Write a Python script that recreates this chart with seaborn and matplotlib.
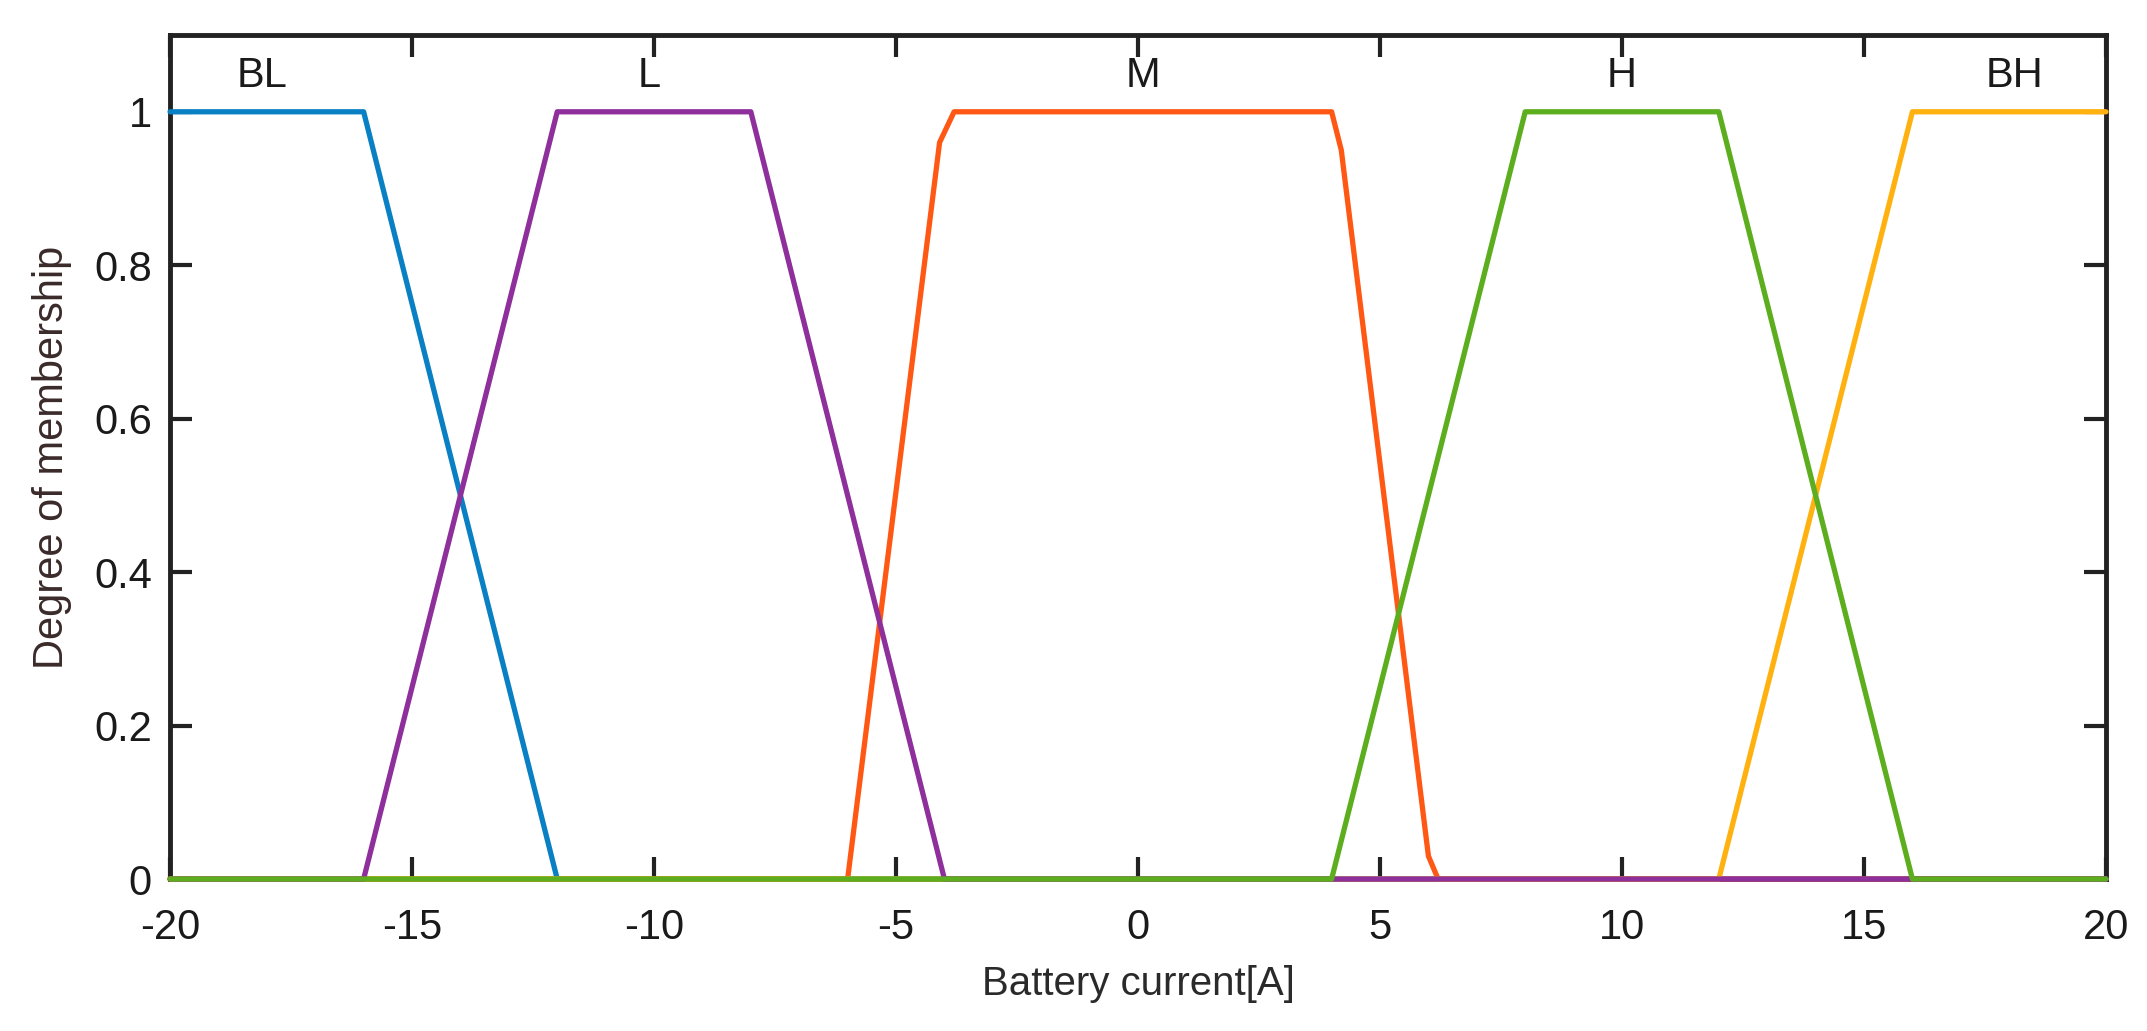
import numpy as np
import pandas as pd
import matplotlib
matplotlib.use("Agg")
import matplotlib.pyplot as plt
import seaborn as sns

# ---- data (membership functions) ----
names = ["BL", "L", "M", "H", "BH"]
bl_x = [-20, -16, -12, 20]
bl_y = [1, 1, 0, 0]
l_x = [-20, -16, -12, -8, -4, 20]
l_y = [0, 0, 1, 1, 0, 0]
m_x = [-20, -6, -4.1, -3.8, 4.0, 4.2, 6.0, 6.2, 20]
m_y = [0, 0, 0.96, 1, 1, 0.95, 0.03, 0, 0]
h_x = [-20, 4, 8, 12, 16, 20]
h_y = [0, 0, 1, 1, 0, 0]
bh_x = [-20, 12, 16, 20]
bh_y = [0, 0, 1, 1]
label_x = [-18.1, -10.1, 0.1, 10.0, 18.1]
label_y = [1.046, 1.046, 1.046, 1.046, 1.046]
xticks = [-20, -15, -10, -5, 0, 5, 10, 15, 20]
yticks = [0, 0.2, 0.4, 0.6, 0.8, 1]
ytick_labels = ["0", "0.2", "0.4", "0.6", "0.8", "1"]

colors = {"BL": "#0a80c4", "L": "#8e2f9c", "M": "#ff5714", "H": "#5cae1e", "BH": "#ffb10f"}
series = {"BL": (bl_x, bl_y), "L": (l_x, l_y), "M": (m_x, m_y), "H": (h_x, h_y), "BH": (bh_x, bh_y)}
draw_order = ["BL", "M", "BH", "L", "H"]

sns.set_theme(style="white")
plt.rcParams["font.family"] = ["Liberation Sans", "DejaVu Sans"]

fig = plt.figure(figsize=(21.47, 10.31), dpi=100)
ax = fig.add_axes([0.0792, 0.1474, 0.9017, 0.8186])

for n in draw_order:
    xs, ys = series[n]
    df = pd.DataFrame({"x": xs, "y": ys})
    sns.lineplot(data=df, x="x", y="y", ax=ax, color=colors[n], linewidth=3.8,
                 sort=False, estimator=None, clip_on=False, zorder=3)

for n, tx, ty in zip(names, label_x, label_y):
    ax.text(tx, ty, n, ha="center", va="center", fontsize=30, color="#1a1a1a")

ax.set_xlim(-20, 20)
ax.set_ylim(0, 1.1)
ax.set_xticks(xticks)
ax.set_xticklabels([str(t) for t in xticks])
ax.set_yticks(yticks)
ax.set_yticklabels(ytick_labels)
ax.tick_params(direction="in", length=16, width=3, color="#222222",
               labelsize=30, labelcolor="#1a1a1a", top=True, right=True,
               bottom=True, left=True)
ax.tick_params(axis="x", pad=21)
ax.tick_params(axis="y", pad=13)
for s in ax.spines.values():
    s.set_visible(True)
    s.set_color("#222222")
    s.set_linewidth(3.5)
ax.set_xlabel("Battery current[A]", fontsize=29, color="#2a2a2a", labelpad=12)
ax.set_ylabel("Degree of membership", fontsize=30, color="#3a2a2a", labelpad=16)
ax.grid(False)

fig.savefig("out.png", dpi=100, facecolor="white")
